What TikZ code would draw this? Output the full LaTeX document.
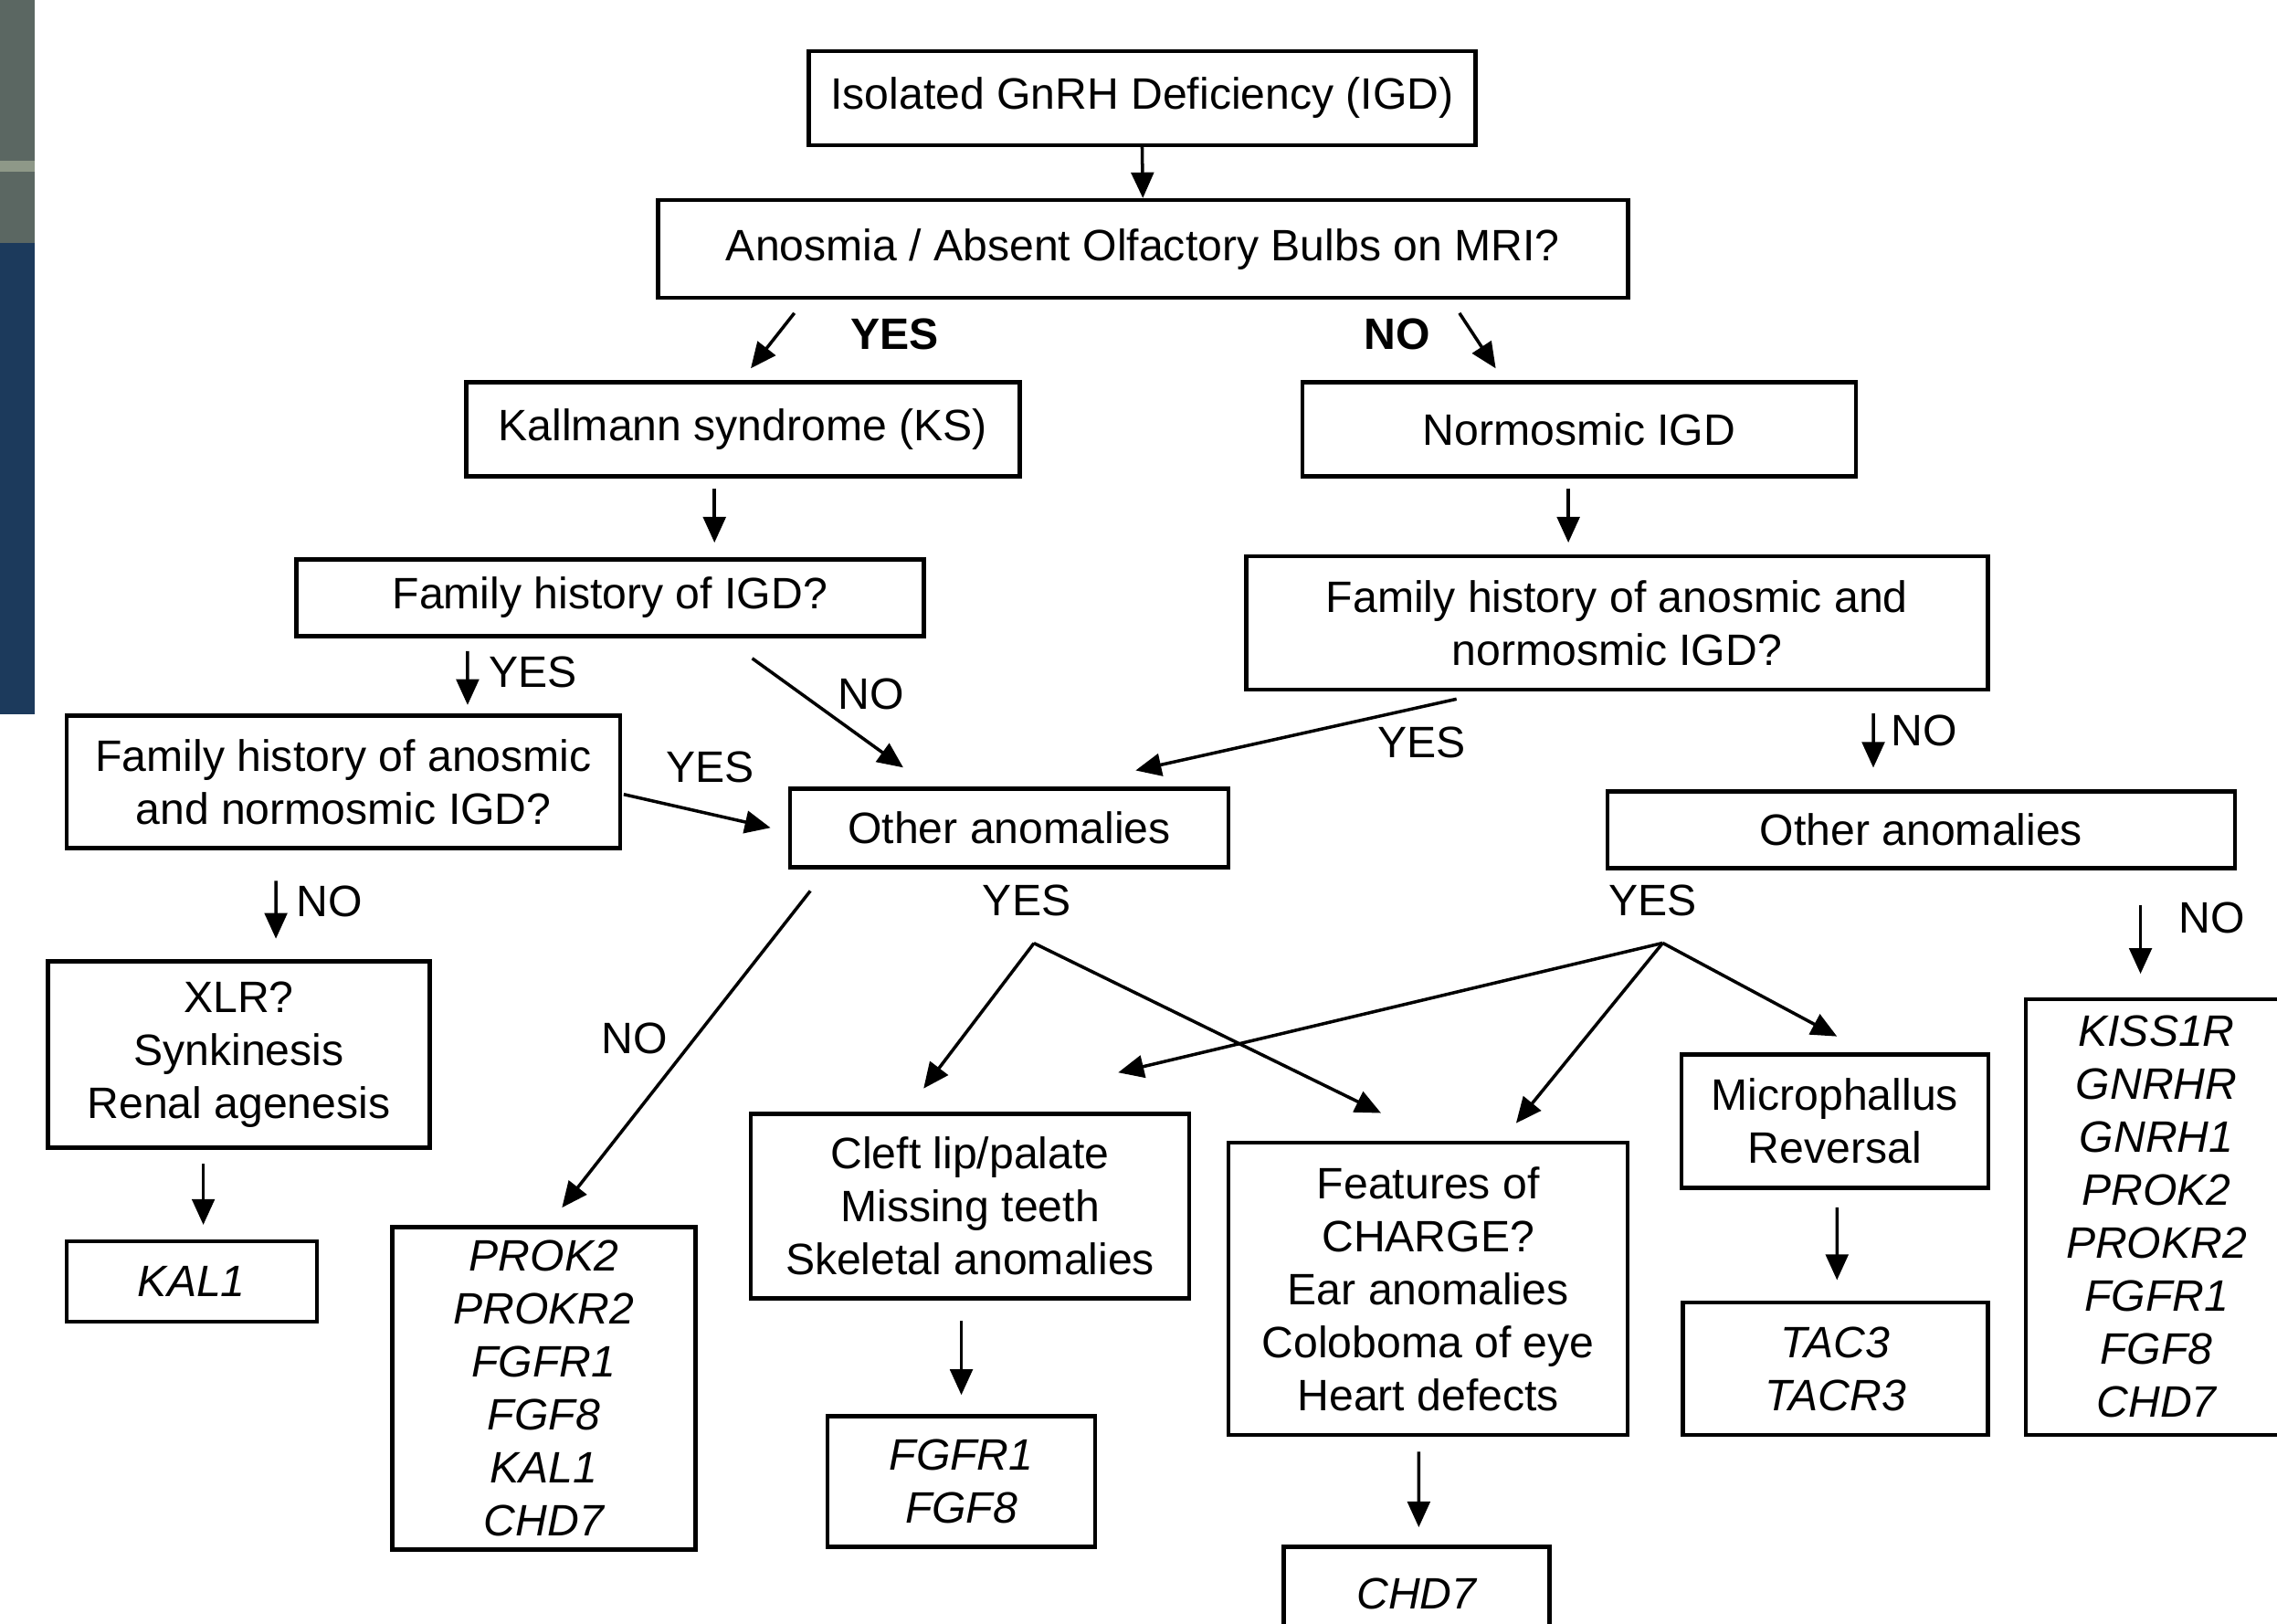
\documentclass[tikz,border=0pt]{standalone}
\usepackage{fontspec}
\setmainfont{Liberation Sans}
\usetikzlibrary{arrows.meta,calc}
\newcommand{\fs}{\fontsize{13.7}{16.5}\selectfont}
\definecolor{panelgray}{HTML}{5B6762}
\definecolor{panellight}{HTML}{8E9888}
\definecolor{panelblue}{HTML}{1C3A5C}

\begin{document}
\begin{tikzpicture}[x=0.0159cm,y=-0.0159cm,
  box/.style={draw,line width=1.3pt,align=center,inner sep=0pt,font=\fs},
  gene/.style={box,font=\fs\itshape},
  arr/.style={-{Triangle[length=8pt,width=7pt]},line width=1pt},
  lab/.style={inner sep=0pt,font=\fs},
  blab/.style={inner sep=0pt,font=\fs\bfseries}]
  \useasboundingbox (0,0) rectangle (1568,1118);
  %Photo strip at the left edge
  \fill[panelgray] (0,0) rectangle (24,167);
  \fill[panellight] (0,111) rectangle (24,118);
  \fill[panelblue] (0,167) rectangle (24,492);

  %Top of the tree
  \node[box,minimum width=7.30cm,minimum height=1.03cm] (igd) at (786.5,67.5) {Isolated GnRH Deficiency (IGD)};
  \node[box,minimum width=10.62cm,minimum height=1.07cm] (anosmia) at (787,171.5) {Anosmia / Absent Olfactory Bulbs on MRI?};
  \node[box,minimum width=6.06cm,minimum height=1.03cm] (ks) at (511.5,295.5) {Kallmann syndrome (KS)};
  \node[box,minimum width=6.06cm,minimum height=1.03cm] (normo) at (1087.5,295.5) {Normosmic IGD};

  %Family history questions
  \node[box,minimum width=6.87cm,minimum height=0.84cm] (famigd) at (420,411.5) {Family history of IGD?};
  \node[box,minimum width=8.12cm,minimum height=1.46cm] (famright) at (1113.5,429) {Family history of anosmic and\\normosmic IGD?};
  \node[box,minimum width=6.06cm,minimum height=1.45cm] (famleft) at (236.5,538.5) {Family history of anosmic\\and normosmic IGD?};
  \node[box,minimum width=4.80cm,minimum height=0.86cm] (otherA) at (695,570) {Other anomalies};
  \node[box,minimum width=6.87cm,minimum height=0.84cm] (otherB) at (1323,571.5) {Other anomalies};

  %Features
  \node[box,minimum width=4.18cm,minimum height=2.04cm] (xlr) at (164.5,726) {XLR?\\Synkinesis\\Renal agenesis};
  \node[box,minimum width=4.80cm,minimum height=2.02cm] (cleft) at (668,830.5) {Cleft lip/palate\\Missing teeth\\Skeletal anomalies};
  \node[box,minimum width=4.37cm,minimum height=3.20cm] (charge) at (983.5,887.5) {Features of\\CHARGE?\\Ear anomalies\\Coloboma of eye\\Heart defects};
  \node[box,minimum width=3.36cm,minimum height=1.46cm] (micro) at (1263.5,772) {Microphallus\\Reversal};

  %Genes
  \node[gene,minimum width=2.74cm,minimum height=0.88cm] (kal) at (132,882.5) {KAL1};
  \node[gene,minimum width=3.32cm,minimum height=3.53cm] (genesA) at (374.5,956) {PROK2\\PROKR2\\FGFR1\\FGF8\\KAL1\\CHD7};
  \node[gene,minimum width=2.93cm,minimum height=1.43cm] (fgf) at (662,1020) {FGFR1\\FGF8};
  \node[gene,minimum width=2.91cm,minimum height=1.03cm] (chd) at (975.5,1097.5) {CHD7};
  \node[gene,minimum width=3.34cm,minimum height=1.45cm] (tac) at (1264,942.5) {TAC3\\TACR3};
  \node[gene,minimum width=2.86cm,minimum height=4.77cm] (genesB) at (1485,838) {KISS1R\\GNRHR\\GNRH1\\PROK2\\PROKR2\\FGFR1\\FGF8\\CHD7};

  %Answers
  \node[blab] (yes0) at (616,230) {YES};
  \node[blab] (no0) at (962,230) {NO};
  \node[lab] (yes1) at (367,463) {YES};
  \node[lab] (no1) at (600,478) {NO};
  \node[lab] (yes2) at (489,528) {YES};
  \node[lab] (yes3) at (979,511) {YES};
  \node[lab] (no3) at (1325,503) {NO};
  \node[lab] (no2) at (227,621) {NO};
  \node[lab] (no4) at (437,715) {NO};
  \node[lab] (yes4) at (707,620) {YES};
  \node[lab] (yes5) at (1138,620) {YES};
  \node[lab] (no5) at (1523,632) {NO};

  %Arrows
  \draw[arr] (igd.south) -- (anosmia.north);
  \draw[arr] ($(anosmia.south)+(-240,9)$) -- ($(ks.north)+(5.5,-8)$);
  \draw[arr] ($(anosmia.south)+(218,9)$) -- ($(normo.north)+(-57.5,-8)$);
  \draw[arr] ($(ks.south)+(-19.5,7)$) -- ($(famigd.north)+(72,-10)$);
  \draw[arr] ($(normo.south)+(-7.5,7)$) -- ($(famright.north)+(-33.5,-8)$);
  \draw[arr] ($(famigd.south)+(-98,9)$) -- ($(famleft.north)+(85.5,-6)$);
  \draw[arr] ($(famigd.south)+(98,14)$) -- ($(otherA.north)+(-73,-13)$);
  \draw[arr] ($(famleft.east)+(1,8.5)$) -- ($(otherA.west)+(-12,0)$);
  \draw[arr] ($(famright.south)+(-110.5,5)$) -- ($(otherA.north)+(87,-11)$);
  \draw[arr] ($(famright.south)+(176.5,15)$) -- ($(otherB.north)+(-33,-15)$);
  \draw[arr] ($(famleft.south)+(-46.5,21)$) -- ($(xlr.north)+(25.5,-14)$);
  \draw[arr] ($(xlr.south)+(-24.5,10)$) -- ($(kal.north)+(8,-10)$);
  \draw[arr] ($(otherA.south)+(-137,15)$) -- ($(genesA.north)+(12.5,-12)$);
  \draw[arr] ($(cleft.south)+(-6,14)$) -- ($(fgf.north)+(0,-13)$);
  \draw[arr] ($(charge.south)+(-6.5,10)$) -- ($(chd.north)+(1.5,-12)$);
  \draw[arr] ($(micro.south)+(1.5,12)$) -- ($(tac.north)+(1,-14)$);
  \draw[arr] ($(otherB.south)+(151,24)$) -- ($(genesB.north)+(-11,-16)$);

  %Forks below the other anomalies
  \coordinate (forkA) at ($(otherA.south)+(17,51)$);
  \coordinate (forkB) at ($(otherB.south)+(-178,50)$);
  \draw[arr] (forkA) -- ($(cleft.north)+(-32,-16)$);
  \draw[arr] (forkA) -- ($(charge.north)+(-32.5,-19)$);
  \draw[arr] (forkB) -- ($(cleft.north)+(102,-27)$);
  \draw[arr] (forkB) -- ($(charge.north)+(60.5,-12)$);
  \draw[arr] (forkB) -- ($(micro.north)+(1.5,-11)$);
\end{tikzpicture}
\end{document}
